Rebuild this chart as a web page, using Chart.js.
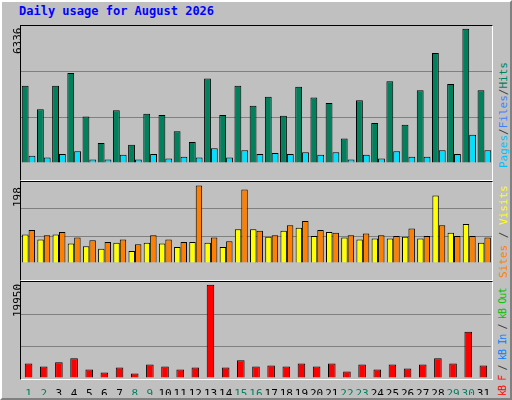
<!DOCTYPE html>
<html><head>
<script src="https://cdn.jsdelivr.net/npm/chart.js@4.4.0/dist/chart.umd.min.js"></script>
<style>
body { margin:0; }
#wrap { position:relative; width:512px; height:400px; background:#c0c0c0; overflow:hidden;
  box-sizing:border-box; border-top:2px solid #fff; border-left:2px solid #fff; border-right:2px solid #808080; border-bottom:2px solid #808080; }
canvas { position:absolute; }
.t { position:absolute; font-family:"DejaVu Sans Mono",monospace; font-size:11px; white-space:nowrap; }
.rot { transform-origin:0 0; transform:rotate(-90deg); }
.panel { position:absolute; left:18px; width:473px; border-top:1px solid #000; border-left:1px solid #000; border-right:1px solid #fff; border-bottom:1px solid #fff; box-sizing:border-box; }
</style>
</head><body>
<div id="wrap">
  <div class="t" style="left:17px;top:2px;color:#0000ff;font-weight:bold;font-size:12px">Daily usage for August 2026</div>
  <div class="panel" style="top:23px;height:156px"></div>
  <div class="panel" style="top:179px;height:100px"></div>
  <div class="panel" style="top:279px;height:99px"></div>
  <canvas id="c1" style="left:19px;top:24px"></canvas>
  <canvas id="c2" style="left:19px;top:180px"></canvas>
  <canvas id="c3" style="left:19px;top:280px"></canvas>
  <div class="t rot" style="left:9px;top:52px">6336</div>
  <div class="t rot" style="left:9px;top:205px">198</div>
  <div class="t rot" style="left:9px;top:315px">19950</div>
  <div class="t rot" style="left:495px;top:166px"><span style="color:#00c0ff">Pages</span><span style="color:#404040">/</span><span style="color:#4080ff">Files</span><span style="color:#404040">/</span><span style="color:#00805c">Hits</span></div>
  <div class="t rot" style="left:495px;top:276px"><span style="color:#ff8000">Sites</span> <span style="color:#404040">/</span> <span style="color:#ffff00">Visits</span></div>
  <div class="t rot" style="left:495px;top:394px;font-size:10px;letter-spacing:-0.9px"><span style="color:#ff0000">kB F</span> <span style="color:#404040">/</span> <span style="color:#0080ff">kB In</span> <span style="color:#404040">/</span> <span style="color:#00c000">kB Out</span></div>
</div>
<script>
// Data
const days = Array.from({length: 31}, (_, i) => String(i + 1));
const weekend = [1, 2, 8, 9, 15, 16, 22, 23, 29, 30];
const hits = [3650, 2530, 3650, 4250, 2190, 940, 2490, 860, 2320, 2270, 1500, 990, 3990, 2270, 3650, 2700,
  3130, 2230, 3600, 3090, 2830, 1160, 2960, 1890, 3860, 1800, 3430, 5190, 3730, 6336, 3430];
const files = [340, 260, 430, 560, 170, 170, 390, 170, 430, 210, 300, 260, 690, 260, 600, 430,
  470, 430, 510, 390, 510, 170, 390, 210, 560, 300, 300, 600, 430, 1330, 600];
const visits = [72, 59, 72, 49, 42, 36, 51, 30, 51, 49, 40, 53, 51, 40, 85, 85,
  66, 81, 89, 68, 78, 64, 59, 62, 62, 66, 62, 170, 76, 98, 51];
const sites = [83, 70, 78, 64, 57, 53, 59, 47, 70, 59, 53, 195, 64, 55, 185, 81,
  70, 95, 106, 83, 76, 70, 74, 70, 68, 87, 68, 95, 68, 68, 64];
const kbytes = [3130, 2480, 3350, 4220, 1820, 1160, 2260, 950, 2910, 2480, 1820, 2260, 19950, 2260, 3790, 2480,
  2690, 2480, 3130, 2480, 3130, 1380, 2910, 1820, 2910, 2040, 2910, 4220, 3130, 9900, 2690];

function makeChart(id, w, h, max, sets, showX) {
  const cv = document.getElementById(id);
  cv.width = w; cv.height = h;
  return new Chart(cv, {
    type: 'bar',
    data: {
      labels: days,
      datasets: sets.map(s => ({ data: s[0], backgroundColor: s[1], borderColor: '#000', borderWidth: 1,
        borderSkipped: 'bottom', categoryPercentage: s[2], barPercentage: 1 }))
    },
    options: {
      responsive: false, animation: false,
      layout: { padding: 0 },
      plugins: { legend: { display: false }, tooltip: { enabled: false } },
      scales: {
        x: {
          display: showX,
          grid: { display: false }, border: { display: false },
          ticks: {
            padding: 2, maxRotation: 0, autoSkip: false,
            font: { family: 'DejaVu Sans Mono', size: 11 },
            color: c => weekend.includes(c.index + 1) ? '#00805c' : '#000'
          },
          afterFit: s => { s.height = 17; }
        },
        y: {
          display: true, min: 0, max: max,
          ticks: { display: false, stepSize: max / 3 },
          border: { display: false },
          grid: { color: c => (c.tick.value > 0 && c.tick.value < max) ? '#808080' : 'rgba(0,0,0,0)', lineWidth: 1, drawTicks: false },
          afterFit: s => { s.width = 0; }
        }
      }
    }
  });
}

makeChart('c1', 471, 154, 6336 * 1.02, [[hits, '#00805c', 0.9], [files, '#00e0ff', 0.9]], false);
makeChart('c2', 471, 98, 198 * 1.03, [[visits, '#ffff00', 0.85], [sites, '#ff8000', 0.85]], false);
makeChart('c3', 471, 113, 19950 * 1.03, [[kbytes, '#ff0000', 0.5]], true);
</script>
</body></html>
